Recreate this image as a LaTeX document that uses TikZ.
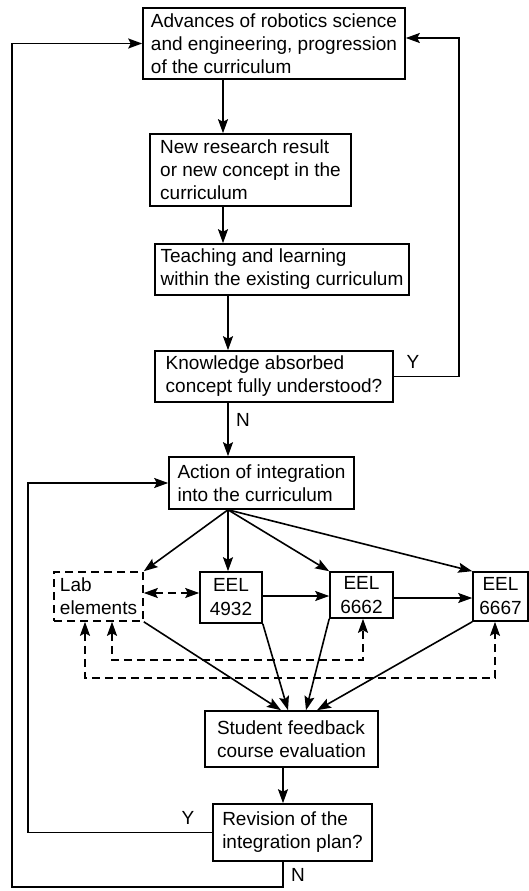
\documentclass[tikz,border=0pt]{standalone}
\usepackage{fontspec}
\setmainfont{Liberation Sans}
\usetikzlibrary{arrows.meta}
\begin{document}
\begin{tikzpicture}[x=1pt,y=-1pt,
  box/.style={draw, line width=1.6pt, rectangle, align=left, inner sep=0pt,
    font=\fontsize{19}{23}\selectfont},
  ebox/.style={box, align=center, font=\fontsize{19}{24}\selectfont},
  dbox/.style={box, dash pattern=on 8pt off 5pt},
  tip/.style={},
  arr/.style={-{Stealth[length=14pt,width=10pt,inset=2.5pt]}, line width=1.6pt},
  darr/.style={{Stealth[length=14pt,width=10pt,inset=2.5pt]}-{Stealth[length=14pt,width=10pt,inset=2.5pt]}, line width=1.6pt, dash pattern=on 8pt off 5pt},
  lbl/.style={font=\fontsize{19}{23}\selectfont, inner sep=0pt}]
\useasboundingbox (0,0) rectangle (529,891);
\fill[white] (0,0) rectangle (529,891);

% boxes
\node[box, minimum width=262pt, minimum height=71pt] (b1) at (274,43.5)
  {Advances of robotics science\\and engineering, progression\\of the curriculum};
\node[box, minimum width=201pt, minimum height=72pt] (b2) at (250.5,170)
  {New research result\\or new concept in the\\curriculum};
\node[box, minimum width=254pt, minimum height=51pt] (b3) at (282,269.5)
  {Teaching and learning\\within the existing curriculum};
\node[box, minimum width=238pt, minimum height=51pt] (b4) at (274,376.5)
  {Knowledge absorbed\\concept fully understood?};
\node[box, minimum width=185pt, minimum height=52pt] (b5) at (261.5,483)
  {Action of integration\\into the curriculum};
\node[dbox, minimum width=89pt, minimum height=49pt] (lab) at (98.5,596.5)
  {Lab\\elements};
\node[ebox, minimum width=62pt, minimum height=51pt] (e1) at (231,597.5) {EEL\\4932};
\node[ebox, minimum width=63pt, minimum height=46pt] (e2) at (361.5,595) {EEL\\6662};
\node[ebox, minimum width=55pt, minimum height=49pt] (e3) at (500.5,596.5) {EEL\\6667};
\node[box, minimum width=173pt, minimum height=56pt] (b6) at (291.5,739)
  {Student feedback\\course evaluation};
\node[box, minimum width=159pt, minimum height=57pt] (b7) at (292.5,832.5)
  {Revision of the\\integration plan?};

% labels
\node[lbl] (ly1) at (413,362) {Y};
\node[lbl] (ln1) at (243,420) {N};
\node[lbl] (ly2) at (188,818) {Y};
\node[lbl] (ln2) at (298,875) {N};

% helper coordinates
\coordinate (xa) at (223,0);
\coordinate (xb) at (228,0);
\coordinate (yr) at (459,0);
\coordinate (yt) at (0,38);
\coordinate (xl) at (28,0);
\coordinate (xn) at (283,0);
\coordinate (yb) at (0,887);
\coordinate (xo) at (12,0);
\coordinate (yd) at (0,593);
\coordinate (y1) at (0,596);
\coordinate (y2) at (0,598);
\coordinate (x85) at (85,0);
\coordinate (x112) at (112,0);
\coordinate (x363) at (363,0);
\coordinate (x495) at (495,0);
\coordinate (y660) at (0,660);
\coordinate (y678) at (0,678);
\coordinate (t1) at (281,0);
\coordinate (t2) at (288,0);
\coordinate (t3) at (306,0);
\coordinate (t4) at (317,0);

% main chain
\draw[arr] (b1.south -| xa) -- (b2.north -| xa);
\draw[arr] (b2.south -| xa) -- (b3.north -| xa);
\draw[arr] (b3.south -| xb) -- (b4.north -| xb);
\draw[arr] (b4.south -| xb) -- (b5.north -| xb);
\draw[arr] (b6.south -| xn) -- (b7.north -| xn);

% Y loop top
\draw[arr] (b4.east) -- (b4.east -| yr) -- (yr |- yt) -- (b1.east |- yt);

% fan out
\draw[arr] (b5.south -| xb) -- (lab.north east);
\draw[arr] (b5.south -| xb) -- (e1.north -| xb);
\draw[arr] (b5.south -| xb) -- (e2.north west);
\draw[arr] (b5.south -| xb) -- (e3.north west);

% course chain
\draw[darr] (lab.east |- yd) -- (e1.west |- yd);
\draw[arr] (e1.east |- y1) -- (e2.west |- y1);
\draw[arr] (e2.east |- y2) -- (e3.west |- y2);

% dashed feedback
\draw[darr] (lab.south -| x112) -- (x112 |- y660) -- (x363 |- y660) -- (e2.south -| x363);
\draw[darr] (lab.south -| x85) -- (x85 |- y678) -- (x495 |- y678) -- (e3.south -| x495);

% to student feedback
\draw[arr] (lab.south east) -- (b6.north -| t1);
\draw[arr] (e1.south east) -- (b6.north -| t2);
\draw[arr] (e2.south west) -- (b6.north -| t3);
\draw[arr] (e3.south west) -- (b6.north -| t4);

% bottom loops
\draw[arr] (b7.west) -- (b7.west -| xl) -- (xl |- b5.west) -- (b5.west);
\draw[arr] (b7.south -| xn) -- (xn |- yb) -- (xo |- yb) -- (xo |- b1.west) -- (b1.west);
\end{tikzpicture}
\end{document}
